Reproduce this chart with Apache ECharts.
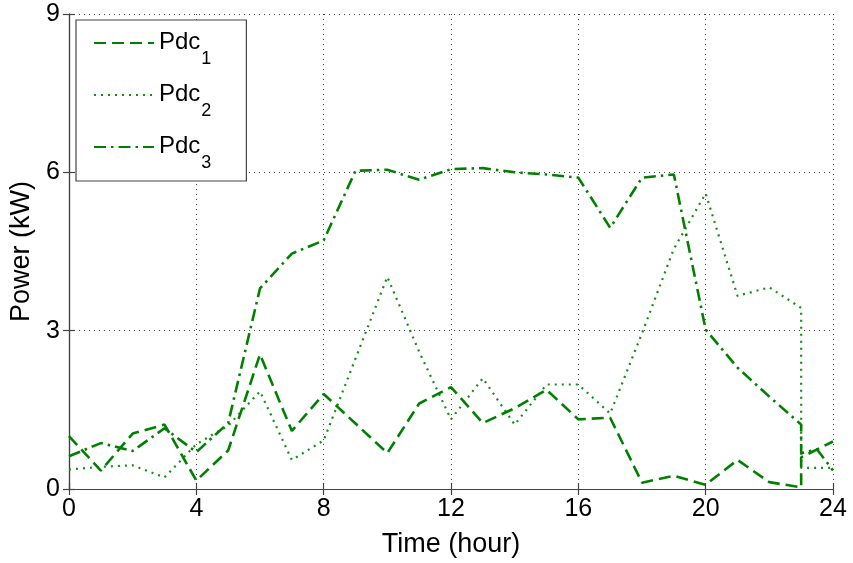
<!DOCTYPE html>
<html>
<head>
<meta charset="utf-8">
<script src="https://cdn.jsdelivr.net/npm/echarts@6/dist/echarts.min.js"></script>
<style>html,body{margin:0;padding:0;background:#fff}#c{width:853px;height:563px}</style>
</head>
<body>
<div id="c"></div>
<script>
// ---- data ----
const xTicks = [0, 4, 8, 12, 16, 20, 24];
const yTicks = [0, 3, 6, 9];
const pdc1X = [0,1,2,3,4,5,6,7,8,9,10,11,12,13,14,15,16,17,18,19,20,21,22,23,23,24];
const pdc1Y = [1.0,0.35,1.05,1.22,0.16,0.73,2.55,1.1,1.8,1.24,0.68,1.62,1.93,1.25,1.53,1.88,1.32,1.35,0.12,0.25,0.08,0.55,0.13,0.03,0.6,0.9];
const pdc2X = [0,1,2,3,4,5,6,7,8,9,10,11,12,13,14,15,16,17,18,19,20,21,22,23,23,24];
const pdc2Y = [0.37,0.42,0.45,0.22,0.85,1.2,1.85,0.55,0.92,2.47,4.02,2.6,1.32,2.1,1.22,1.98,1.98,1.43,2.95,4.55,5.6,3.66,3.82,3.43,0.4,0.4];
const pdc3X = [0,1,2,3,4,5,6,7,8,9,10,11,12,13,14,15,16,17,18,19,20,21,22,23,23,23.5,24];
const pdc3Y = [0.62,0.87,0.72,1.15,0.7,1.25,3.8,4.46,4.71,6.03,6.05,5.86,6.06,6.08,6.0,5.96,5.9,4.95,5.9,5.96,3.02,2.3,1.75,1.22,0.68,0.75,0.35];
const seriesNames = ['Pdc1', 'Pdc2', 'Pdc3'];

const pair = (xs, ys) => xs.map((x, i) => [x, ys[i]]);
const FONT = 'Liberation Sans, Arial, Helvetica, sans-serif';
const GREEN = '#008000';
const FS = 25;
const NFS = 27;

const chart = echarts.init(document.getElementById('c'), null, {renderer: 'canvas'});
const axisCommon = {
  axisLine: {show: true, lineStyle: {color: '#444', width: 1.2}},
  axisTick: {show: true, inside: true, length: 6, lineStyle: {color: '#444', width: 1.2}},
};
chart.setOption({
  animation: false,
  backgroundColor: '#fff',
  grid: {left: 68, right: 20, top: 14, bottom: 68, show: false},
  legend: {
    orient: 'vertical',
    left: 76, top: 20,
    padding: [10, 35, 9, 17],
    itemGap: 14,
    itemWidth: 60, itemHeight: 14,
    backgroundColor: '#fff',
    borderColor: '#444', borderWidth: 1.2,
    itemStyle: {opacity: 0},
    data: seriesNames,
    formatter: n => '{a|Pdc}{b|' + n.slice(3) + '}',
    textStyle: {
      fontFamily: FONT, color: '#000',
      rich: {
        a: {fontSize: 24, lineHeight: 26, verticalAlign: 'top', fontFamily: FONT, color: '#000'},
        b: {fontSize: 18, lineHeight: 16, padding: [20, 0, 0, 1], verticalAlign: 'top', fontFamily: FONT, color: '#000'}
      }
    }
  },
  xAxis: [{
    type: 'value', min: 0, max: 24, interval: 4,
    name: 'Time (hour)', nameLocation: 'middle', nameGap: 42,
    nameTextStyle: {fontFamily: FONT, fontSize: NFS, color: '#000'},
    axisLabel: {fontFamily: FONT, fontSize: FS, color: '#000', margin: 8},
    splitLine: {show: true, lineStyle: {color: '#444', type: [1, 4], width: 1}},
    ...axisCommon
  }, {
    type: 'value', min: 0, max: 24, interval: 4, position: 'top',
    axisLabel: {show: false}, splitLine: {show: false},
    ...axisCommon
  }],
  yAxis: [{
    type: 'value', min: 0, max: 9, interval: 3,
    name: 'Power (kW)', nameLocation: 'middle', nameGap: 34,
    nameTextStyle: {fontFamily: FONT, fontSize: NFS, color: '#000'},
    axisLabel: {fontFamily: FONT, fontSize: FS, color: '#000', margin: 9},
    splitLine: {show: true, lineStyle: {color: '#444', type: [1, 4], width: 1}},
    ...axisCommon
  }, {
    type: 'value', min: 0, max: 9, interval: 3, position: 'right',
    axisLabel: {show: false}, splitLine: {show: false},
    ...axisCommon
  }],
  series: [
    {name: 'Pdc1', type: 'line', data: pair(pdc1X, pdc1Y), symbol: 'none', z: 5,
     lineStyle: {color: GREEN, width: 2.6, type: [12, 6]}, itemStyle: {color: GREEN}},
    {name: 'Pdc2', type: 'line', data: pair(pdc2X, pdc2Y), symbol: 'none', z: 4,
     lineStyle: {color: '#109010', width: 2.2, type: [2, 5]}, itemStyle: {color: '#109010'}},
    {name: 'Pdc3', type: 'line', data: pair(pdc3X, pdc3Y), symbol: 'none', z: 6,
     lineStyle: {color: GREEN, width: 2.6, type: [12, 5, 2.5, 5]}, itemStyle: {color: GREEN}}
  ]
});
</script>
</body>
</html>
